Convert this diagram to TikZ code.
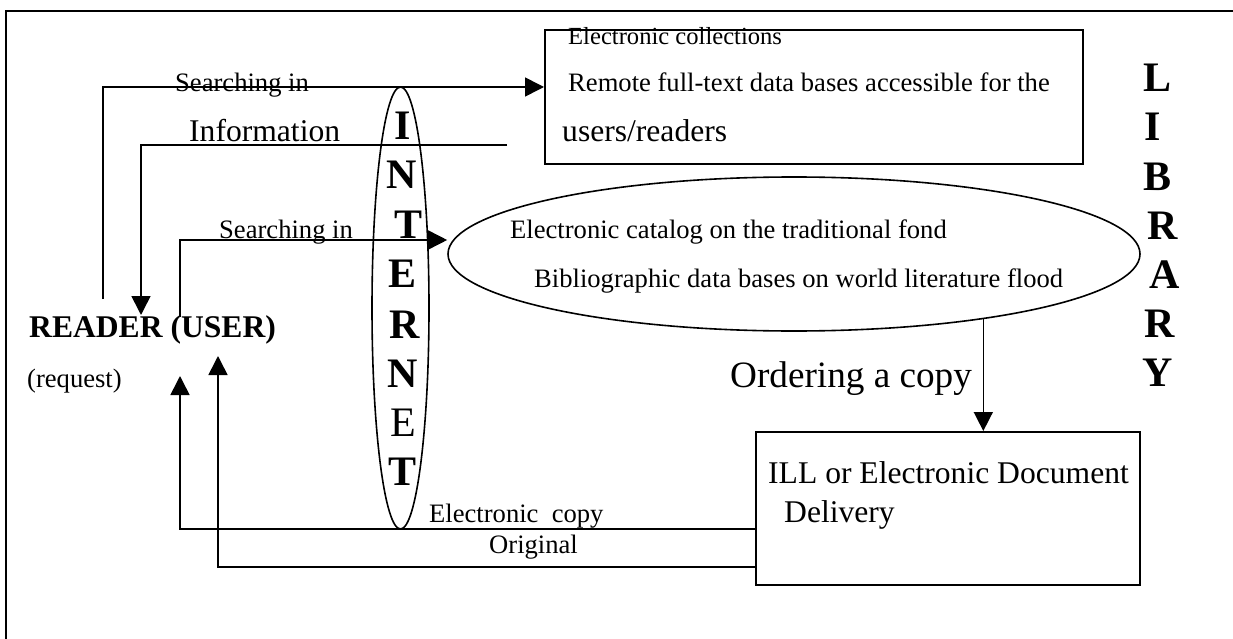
\documentclass[tikz,border=0pt]{standalone}
\usepackage{fontspec}
\setmainfont{Liberation Serif}
\usetikzlibrary{arrows.meta,shapes.geometric}

\begin{document}
\begin{tikzpicture}[
		x=1pt, y=-1pt,
		>={Triangle[length=19pt,width=19pt]},
		flow/.style={draw, line width=1.6pt},
		libbox/.style={draw, rectangle, line width=2pt, inner sep=0},
		oval/.style={draw, ellipse, line width=1.6pt, inner sep=0},
		txt/.style={inner sep=0, anchor=base west, font=\fontsize{26.6}{30}\selectfont},
		bigtxt/.style={inner sep=0, anchor=base west, font=\fontsize{31.6}{36}\selectfont},
		letter/.style={inner sep=0, font=\fontsize{42}{46}\selectfont\bfseries}
	]
	\useasboundingbox (0,0) rectangle (1233,639);
	\draw [line width=1.8pt] (6,639) -- (6,11) -- (1233,11);

	\node [libbox, minimum width=538pt, minimum height=134pt] (collect) at (814,97) {};
	\node [oval, minimum width=692pt, minimum height=154pt]   (catalog) at (794,254) {};
	\node [libbox, minimum width=384pt, minimum height=153pt] (ill)     at (948,508.5) {};
	\node [oval, minimum width=57pt, minimum height=442pt]    (net)     at (400.5,308) {};

	\node [txt, font=\fontsize{24.6}{28}\selectfont] (ecoll) at (568,45) {Electronic collections};
	\node [txt]    (remote) at (568,92)  {Remote full-text data bases accessible for the};
	\node [bigtxt] (users)  at (562,142) {users/readers};
	\node [txt]    (ecat)   at (510,238) {Electronic catalog on the traditional fond};
	\node [txt]    (biblio) at (534,287) {Bibliographic data bases on world literature flood};
	\node [bigtxt] (illtxt) at (768,483) {ILL or Electronic Document};
	\node [bigtxt] (deliv)  at (784,522) {Delivery};
	\node [bigtxt, font=\fontsize{31.6}{36}\selectfont\bfseries] (reader) at (29,337) {READER (USER)};
	\node [txt]    (request) at (27,387) {(request)};
	\node [txt]    (srch1)  at (175,92)  {Searching in};
	\node [bigtxt] (info)   at (189,142) {Information};
	\node [txt]    (srch2)  at (219,238) {Searching in};
	\node [txt, font=\fontsize{37.2}{42}\selectfont] (order) at (730,387) {Ordering a copy};
	\node [txt]    (ecopy)  at (429,522) {Electronic\ \ copy};
	\node [txt]    (orig)   at (489,553) {Original};

	\node [letter] (netI)  at (403,126) {I};
	\node [letter] (netN)  at (402,175) {N};
	\node [letter] (netT)  at (409,225) {T};
	\node [letter] (netE)  at (403,274) {E};
	\node [letter] (netR)  at (405,325) {R};
	\node [letter] (netN2) at (403,374) {N};
	\node [letter, font=\fontsize{42}{46}\selectfont] (netE2) at (403,423) {E};
	\node [letter] (netT2) at (403,472) {T};

	\node [letter] (libL)  at (1157,78)  {L};
	\node [letter] (libI)  at (1153,127) {I};
	\node [letter] (libB)  at (1157,177) {B};
	\node [letter] (libR)  at (1163,226) {R};
	\node [letter] (libA)  at (1165,275) {A};
	\node [letter] (libR2) at (1160,324) {R};
	\node [letter] (libY)  at (1158,373) {Y};

	\coordinate (s1) at (103,299);
	\coordinate (s2) at (180,317);
	\coordinate (infoend) at (507,145);
	\coordinate (r1) at (141,315);
	\coordinate (r2) at (180,376);
	\coordinate (r3) at (218,356);

	\draw [flow, ->] (s1) |- ([yshift=10pt]collect.west) ;
	\draw [flow, ->] (infoend) -| (r1) ;
	\draw [flow, ->] (s2) |- ([yshift=14pt]catalog.west) ;
	\draw [flow, ->] (catalog.-19.7) -- (catalog.-19.7 |- ill.north) ;
	\draw [flow, ->] ([yshift=-20.5pt]ill.west) -| (r2) ;
	\draw [flow, ->] ([yshift=-58.5pt]ill.west) -| (r3) ;
\end{tikzpicture}
\end{document}
